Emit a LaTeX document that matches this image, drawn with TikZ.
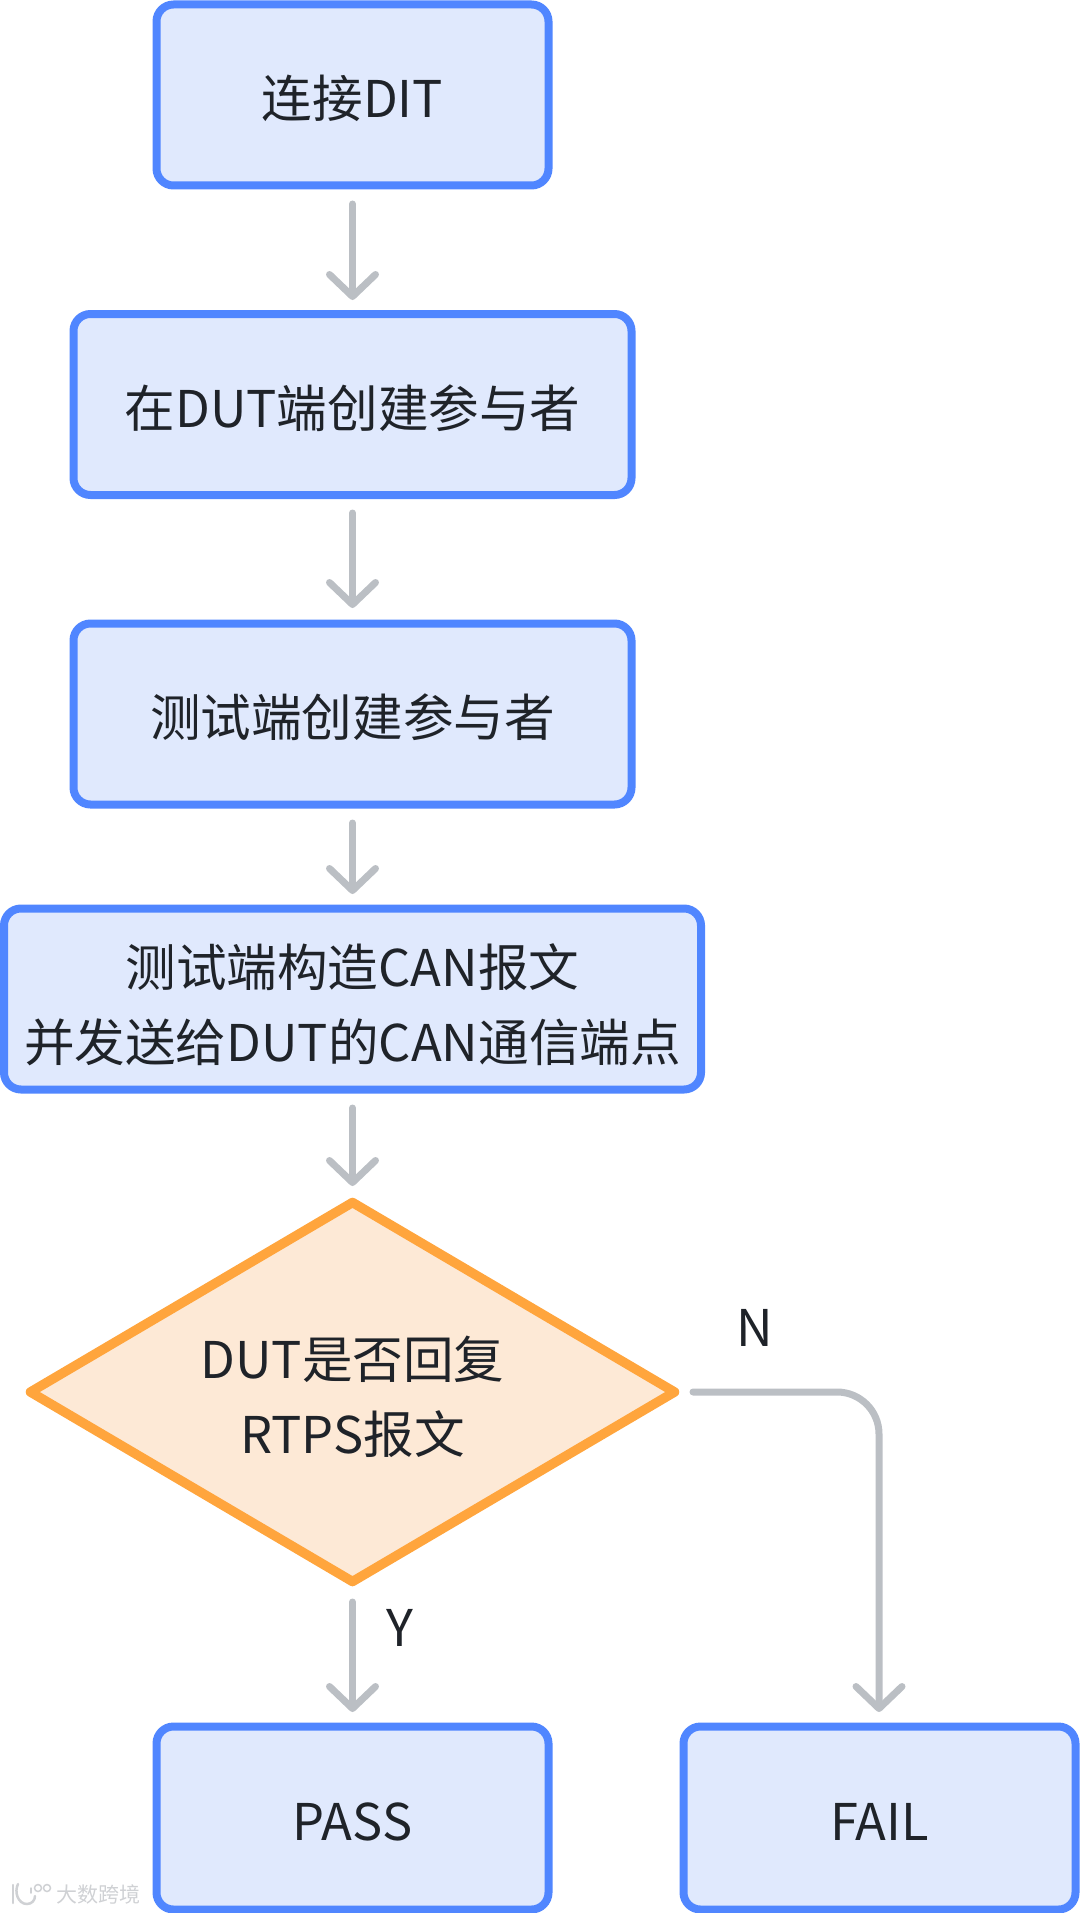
\documentclass[tikz,border=0pt]{standalone}
\usepackage{fontspec}
\setmainfont{Noto Sans CJK SC}
\usetikzlibrary{shapes.geometric,arrows.meta,positioning}
\definecolor{bl}{HTML}{5086FF}
\definecolor{blf}{HTML}{E0E9FD}
\definecolor{orf}{HTML}{FDE9D6}
\definecolor{orl}{HTML}{FFA53D}
\definecolor{gr}{HTML}{BBBFC4}
\definecolor{tx}{HTML}{1F2329}
\definecolor{wm}{HTML}{CFD1D4}
\newcommand{\tstrut}[1]{\rule[-10pt]{0pt}{\dimexpr#1+10pt\relax}}
\tikzset{x=1pt,y=-1pt,
 stepbox/.style={draw=bl,fill=blf,line width=8pt,rounded corners=17pt,text=tx,font=\fontsize{50.6}{74.5}\selectfont,align=center,inner sep=0pt,minimum height=181pt},
 decision/.style={draw=orl,fill=orf,line width=9.5pt,line join=round,diamond,aspect=1.69,text=tx,font=\fontsize{50.6}{75}\selectfont,align=center,inner sep=0pt,minimum width=648pt,minimum height=383pt},
 conn/.style={draw=gr,line width=7pt,line cap=round,-{Straight Barb[round,length=22pt,width=46pt,line width=7pt]}},
 lab/.style={text=tx,font=\fontsize{50.6}{74.5}\selectfont,inner sep=0pt},
 wmark/.style={text=wm,font=\fontsize{21}{21}\selectfont,inner sep=0pt},
 wline/.style={draw=wm,line width=2.5pt,line cap=round}}
\begin{document}
\begin{tikzpicture}
\useasboundingbox (0,0) rectangle (1080,1913);
\node[stepbox,minimum width=392pt] (a) at (352.5,95) {\tstrut{55pt}连接DIT};
\node[stepbox,minimum width=558pt] (b) at (352.5,404.5) {\tstrut{55pt}在DUT端创建参与者};
\node[stepbox,minimum width=558pt] (c) at (352.5,714) {\tstrut{55pt}测试端创建参与者};
\node[stepbox,minimum width=697pt] (d) at (352.5,999) {\tstrut{60pt}测试端构造CAN报文\\\tstrut{60pt}并发送给DUT的CAN通信端点};
\node[decision] (e) at (352.5,1392) {\tstrut{58pt}DUT是否回复\\\tstrut{58pt}RTPS报文};
\node[stepbox,minimum width=392pt,minimum height=183pt] (f) at (352.5,1818) {\tstrut{55pt}PASS};
\node[stepbox,minimum width=392pt,minimum height=183pt] (g) at (879.5,1818) {\tstrut{55pt}FAIL};
\coordinate (a1) at (352.5,204); \coordinate (a2) at (352.5,300);
\coordinate (b1) at (352.5,513); \coordinate (b2) at (352.5,608);
\coordinate (c1) at (352.5,823); \coordinate (c2) at (352.5,894);
\coordinate (d1) at (352.5,1108); \coordinate (d2) at (352.5,1186);
\coordinate (e1) at (352.5,1602); \coordinate (e2) at (352.5,1712);
\coordinate (g1) at (693,1392); \coordinate (g2) at (879,1712);
\draw[conn] (a1) -- (a2);
\draw[conn] (b1) -- (b2);
\draw[conn] (c1) -- (c2);
\draw[conn] (d1) -- (d2);
\draw[conn] (e1) -- (e2);
\draw[conn,rounded corners=42pt] (g1) -| (g2);
\node[lab] (n) at (755,1328) {N};
\node[lab] (y) at (400,1628) {Y};
\node[wmark] (w) at (98,1894) {大数跨境};
\draw[wline] (13,1885) -- (13,1903);
\draw[wline] (18,1884) .. controls (14,1892) and (18,1904) .. (27,1904) .. controls (32,1904) and (35,1900) .. (35,1896);
\draw[wline,line width=1.5pt] (31,1888) -- (31,1893);
\draw[wline,line width=1.5pt] (38,1888) circle (3.5pt);
\draw[wline,line width=1.5pt] (47,1888) circle (3.5pt);
\end{tikzpicture}
\end{document}
